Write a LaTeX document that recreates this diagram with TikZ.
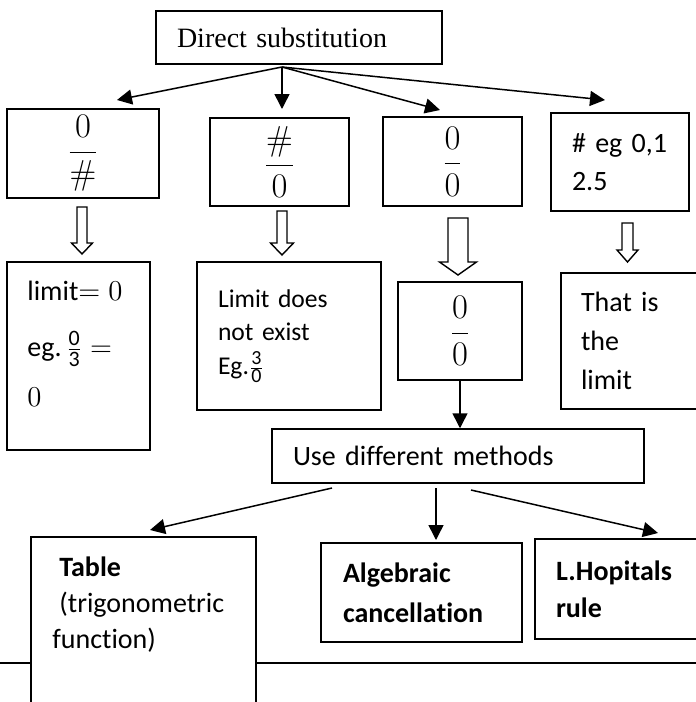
\documentclass[tikz,border=0pt]{standalone}
\usepackage[no-math]{fontspec}
\setmainfont{Carlito}[Ligatures=NoCommon]
\newfontfamily\timesfont{Liberation Serif}
\usetikzlibrary{positioning, arrows.meta}

\tikzset{
    box/.style = {draw, line width=0.75pt, fill=white, inner sep=0pt, align=left},
    txt/.style = {inner sep=0pt, anchor=north west, align=left},
    frac/.style = {box, font=\fontsize{16}{19}\selectfont},
    link/.style = {-{Triangle[length=7.5pt, width=7.5pt]}, line width=0.75pt},
    hollow/.style = {draw, line width=0.7pt, fill=white}
}

\begin{document}
\begin{tikzpicture}[x=0.5pt, y=-0.5pt, font=\fontsize{14}{19}\selectfont]
    \useasboundingbox (0,0) rectangle (696,702);
    \clip (0,0) rectangle (696,702);

    % Rule along the bottom
    \draw[line width=1pt] (0,663) -- (696,663);

    % First level
    \node[box, minimum width=143pt, minimum height=26.5pt, text width=122pt] (ds) at (299,37.5) {\timesfont Direct substitution};
    \node[frac, minimum width=76pt, minimum height=44.5pt] (zh) at (83,153.5) {$\displaystyle\frac{0}{\#}$};
    \node[frac, minimum width=69.5pt, minimum height=44pt] (hz) at (279.5,162) {$\displaystyle\frac{\#}{0}$};
    \node[frac, minimum width=69.5pt, minimum height=44.5pt] (zz) at (452.5,161.5) {$\displaystyle\frac{0}{0}$};
    \node[box, minimum width=69pt, minimum height=49pt, text width=48pt] (num) at (620,162) {\# eg 0,1\\2.5};

    % Second level
    \node[box, minimum width=71.5pt, minimum height=94pt] (lz) at (78.5,356) {};
    \node[txt] (lztext) at (27,281) {limit$= 0$\\[9pt] eg.\,$\frac{\mbox{\fontsize{11}{11}\selectfont 0}}{\mbox{\fontsize{11}{11}\selectfont 3}} =$\\[6pt] $0$};
    \node[box, minimum width=92pt, minimum height=74pt, text width=71pt, font=\fontsize{12.8}{16.8}\selectfont] (dne) at (289,336) {Limit does\\not exist\\Eg.$\frac{\mbox{\fontsize{10}{10}\selectfont 3}}{\mbox{\fontsize{10}{10}\selectfont 0}}$};
    \node[frac, minimum width=62pt, minimum height=49pt] (zz2) at (460,331) {$\displaystyle\frac{0}{0}$};
    \node[box, minimum width=75pt, minimum height=68pt, text width=55pt, font=\fontsize{14}{19.5}\selectfont] (lim) at (636,341) {That is\\the\\limit};

    % Methods
    \node[box, minimum width=186pt, minimum height=27pt, text width=165pt] (use) at (458,456) {Use different methods};
    \node[box, minimum width=112.5pt, minimum height=101.5pt] (tab) at (143.5,638.5) {};
    \node[txt, font=\fontsize{14}{18}\selectfont] (tabtext) at (52,556) {\hspace*{3.5pt}\textbf{Table}\\\hspace*{3.5pt}(trigonometric\\function)};
    \node[box, minimum width=100.5pt, minimum height=49.5pt, text width=78.5pt, font=\fontsize{14}{20}\bfseries] (alg) at (421.5,592.5) {Algebraic\\cancellation};
    \node[box, minimum width=88pt, minimum height=50pt, text width=67pt, font=\fontsize{14}{18.5}\bfseries] (lh) at (623,589) {L.Hopitals\\rule};

    % Hollow arrows
    \foreach \xa/\ya/\yb/\yc/\sw/\hw in {82/207/243/254/5/10.5, 282/211/243/255/5/11.5,
                                        458/218/262/275/10/18.5, 627.5/223/250/262/5.5/10.5}
        \draw[hollow] (\xa-\sw,\ya) -- (\xa+\sw,\ya) -- (\xa+\sw,\yb) -- (\xa+\hw,\yb)
                      -- (\xa,\yc) -- (\xa-\hw,\yb) -- (\xa-\sw,\yb) -- cycle;

    % Arrows
    \coordinate (fork) at (282,67);
    \coordinate (tozh) at (117,100);
    \coordinate (tohz) at (282,109);
    \coordinate (tozz) at (440,110);
    \coordinate (tonum) at (605,100);
    \draw[link] (fork) -- (tozh);
    \draw[link] (fork) -- (tohz);
    \draw[link] (fork) -- (tozz);
    \draw[link] (fork) -- (tonum);
    \draw[link] (zz2.south) -- (zz2.south |- use.north);

    \coordinate (usea) at (332,488);
    \coordinate (useb) at (436,488);
    \coordinate (usec) at (471,490);
    \coordinate (totab) at (150,530);
    \coordinate (toalg) at (436,540);
    \coordinate (tolh) at (658,533);
    \draw[link] (usea) -- (totab);
    \draw[link] (useb) -- (toalg);
    \draw[link] (usec) -- (tolh);
\end{tikzpicture}
\end{document}
